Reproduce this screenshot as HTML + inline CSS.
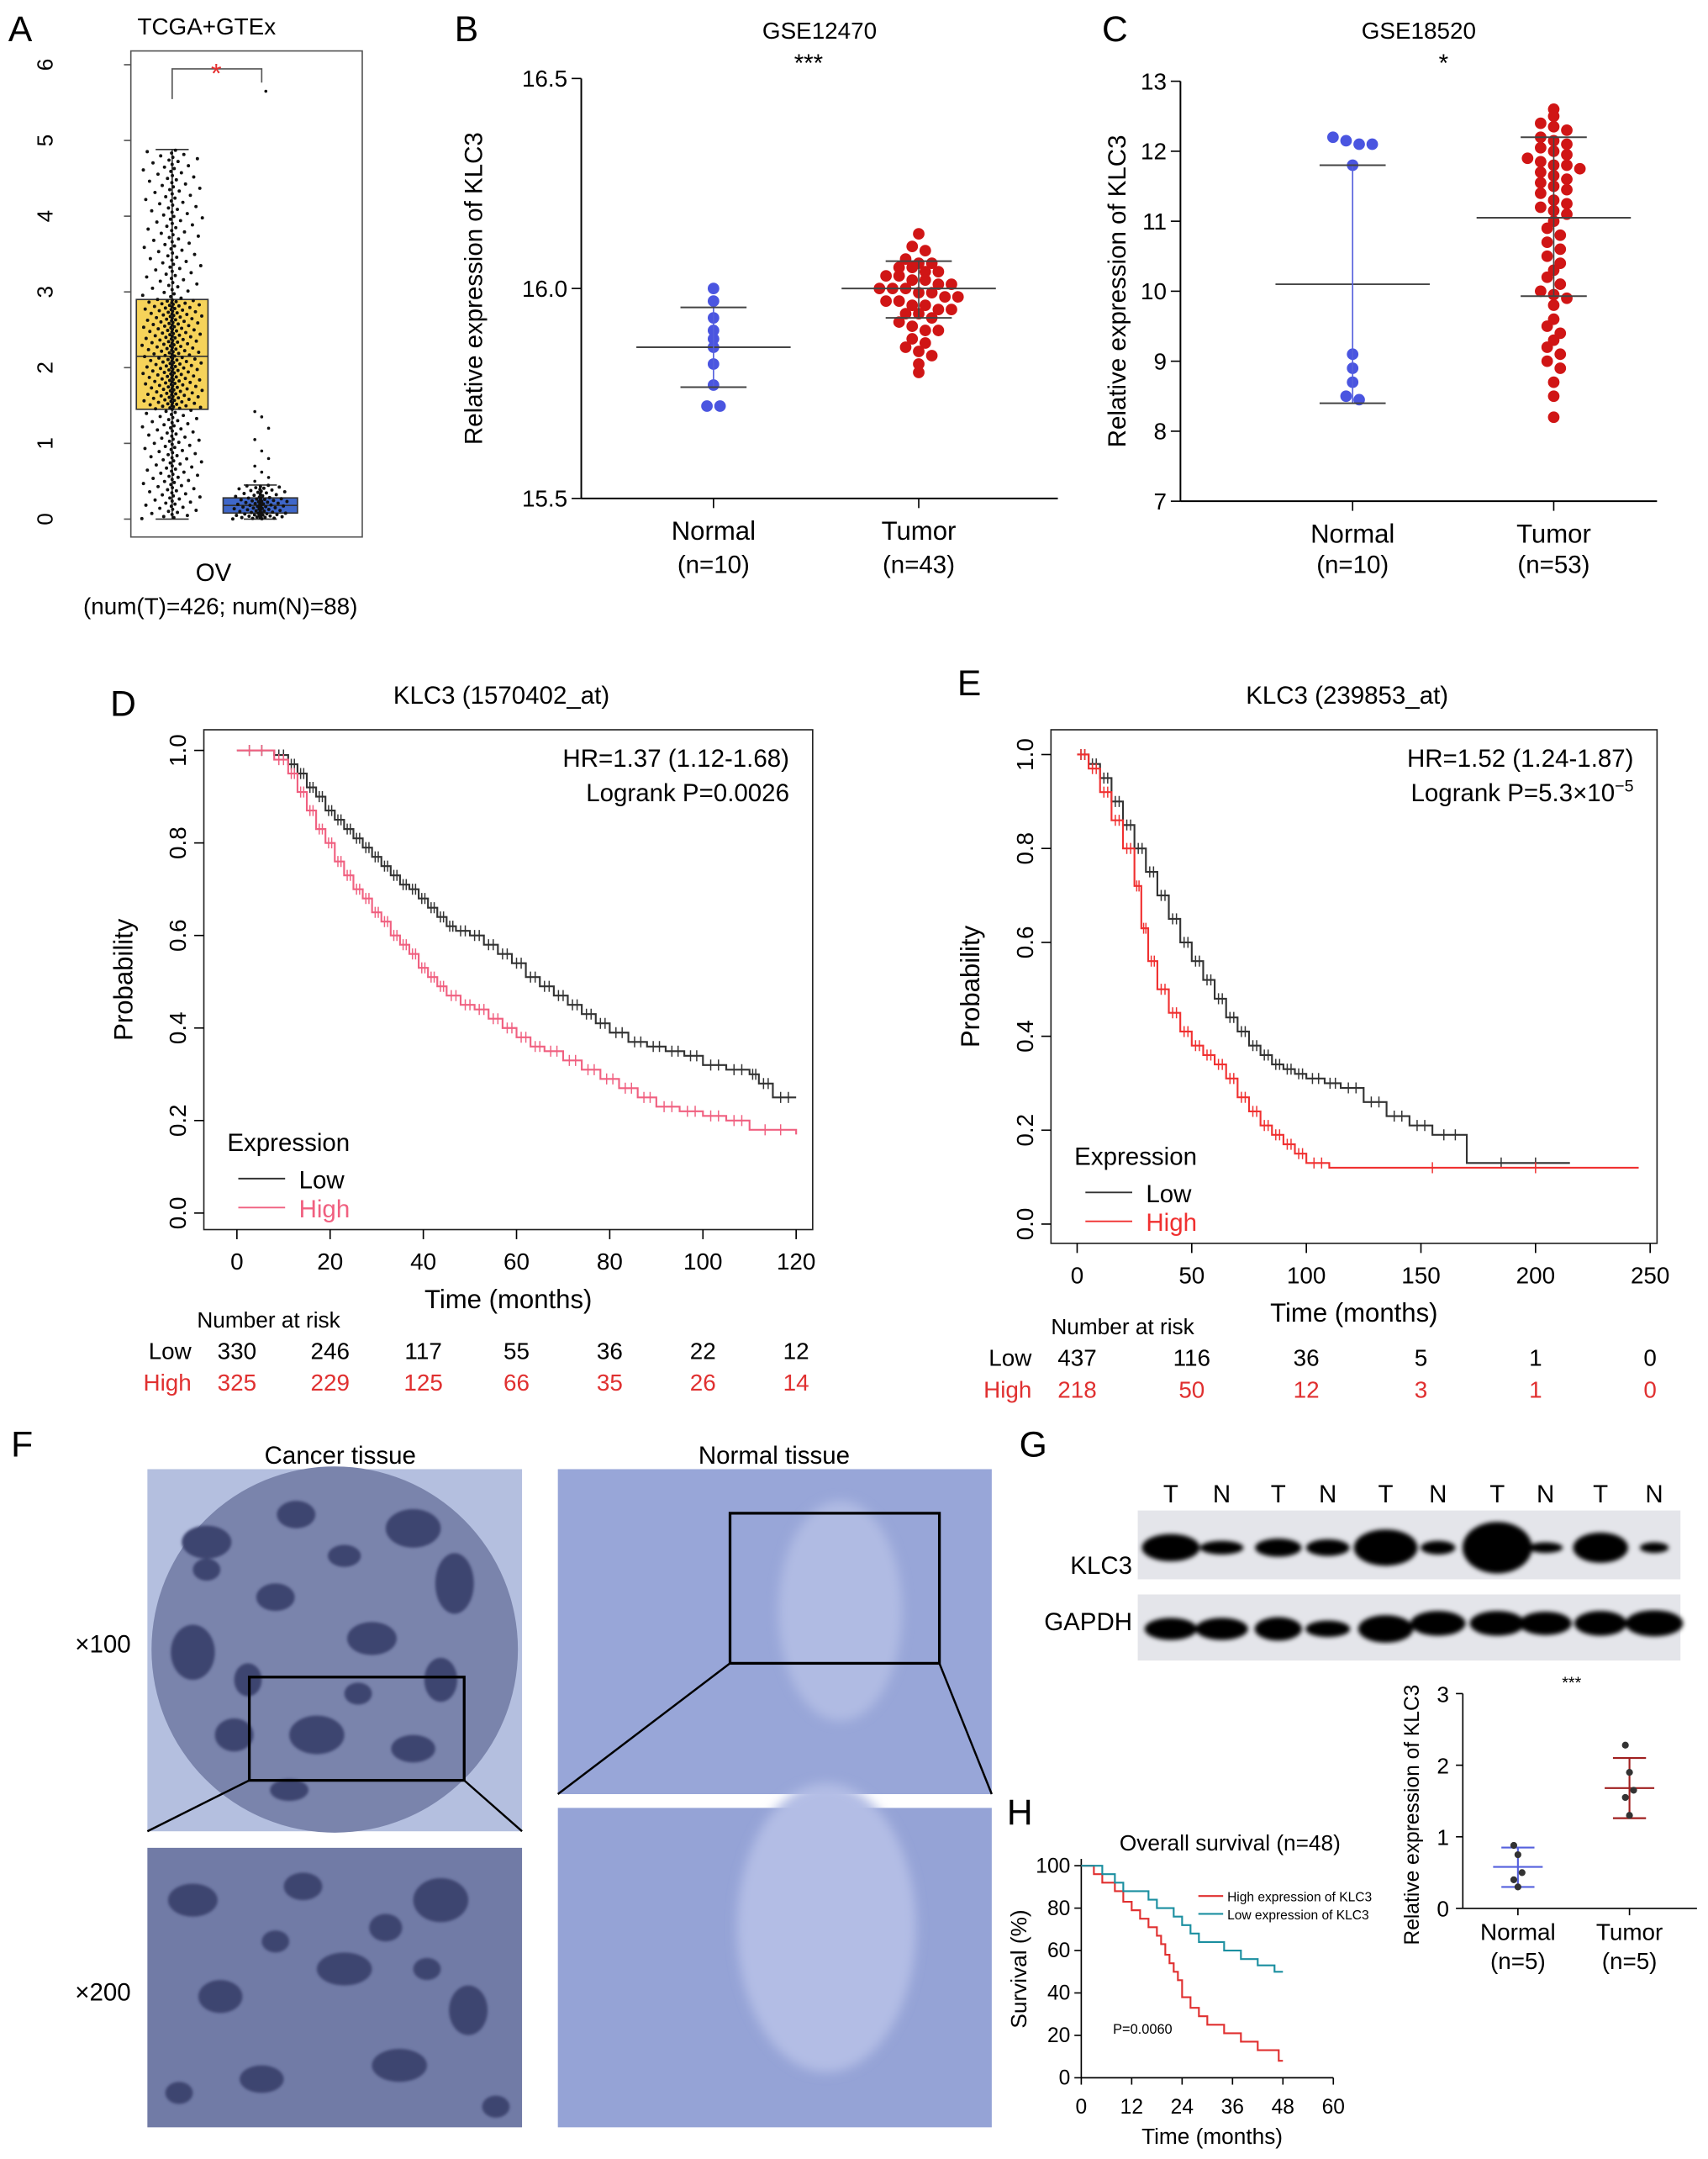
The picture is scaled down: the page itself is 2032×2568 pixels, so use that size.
<!DOCTYPE html>
<html><head><meta charset="utf-8"><style>
html,body{margin:0;padding:0;background:#fff;}
svg{display:block;font-family:"Liberation Sans",sans-serif;}
</style></head><body>
<svg id="fig" width="2032" height="2568" viewBox="0 0 1240 1568" preserveAspectRatio="none" xmlns="http://www.w3.org/2000/svg">
<defs>
<filter id="blur2"><feGaussianBlur stdDeviation="1.6"/></filter>
<filter id="blur1"><feGaussianBlur stdDeviation="1"/></filter>
<filter id="blur3"><feGaussianBlur stdDeviation="4"/></filter>
</defs>
</svg>
<script>
// ---------- data ----------
const aBoxT = [0, 1.45, 2.15, 2.9, 4.88];
const aBoxN = [0, 0.08, 0.18, 0.28, 0.45];
const aOutN = [1.42, 1.35, 1.2, 1.05, 0.9, 0.8, 0.7, 0.62, 0.55, 0.5];
const aOutT = [5.65];
const bNormal = [16.0, 15.97, 15.93, 15.9, 15.88, 15.86, 15.82, 15.77, 15.72, 15.72];
const bTumor = [16.13,16.1,16.09,16.07,16.06,16.06,16.05,16.05,16.04,16.03,16.03,16.02,16.02,16.01,16.01,16.0,16.0,16.0,15.99,15.99,15.98,15.98,15.97,15.97,15.96,15.96,15.95,15.95,15.94,15.94,15.93,15.92,15.91,15.9,15.9,15.88,15.87,15.86,15.85,15.84,15.82,15.8,16.04];
const bStats = [[15.86,15.955,15.765],[16.0,16.065,15.93]];
const cNormal = [12.2,12.15,12.1,12.1,11.8,9.1,8.9,8.7,8.5,8.45];
const cTumor = [12.6,12.5,12.4,12.35,12.3,12.2,12.15,12.1,12.05,12.0,11.95,11.9,11.85,11.8,11.8,11.75,11.7,11.65,11.6,11.55,11.5,11.4,11.3,11.25,11.2,11.15,11.1,11.0,10.9,10.8,10.7,10.6,10.5,10.4,10.3,10.2,10.1,10.0,9.95,9.9,9.8,9.6,9.5,9.4,9.3,9.2,9.1,9.0,8.9,8.7,8.5,8.2,11.45];
const cStats = [[10.1,11.8,8.4],[11.05,12.2,9.93]];
const dLowT = [0,8,11,13,15,17,19,21,23,25,27,29,31,33,35,37,39,41,43,45,47,50,53,56,59,62,65,68,71,74,77,80,84,88,92,96,100,105,110,112,115,120];
const dLowS = [1,0.99,0.97,0.95,0.92,0.9,0.87,0.85,0.83,0.81,0.79,0.77,0.75,0.73,0.71,0.7,0.68,0.66,0.64,0.62,0.61,0.6,0.58,0.56,0.54,0.51,0.49,0.47,0.45,0.43,0.41,0.39,0.37,0.36,0.35,0.34,0.32,0.31,0.3,0.28,0.25,0.25];
const dHighT = [0,8,11,13,15,17,19,21,23,25,27,29,31,33,35,37,39,41,43,45,48,51,54,57,60,63,66,70,74,78,82,86,90,95,100,105,110,120];
const dHighS = [1,0.98,0.95,0.91,0.87,0.83,0.8,0.76,0.73,0.7,0.68,0.65,0.63,0.6,0.58,0.56,0.53,0.51,0.49,0.47,0.45,0.44,0.42,0.4,0.38,0.36,0.35,0.33,0.31,0.29,0.27,0.25,0.23,0.22,0.21,0.2,0.18,0.17];
const dRiskLow = [330,246,117,55,36,22,12];
const dRiskHigh = [325,229,125,66,35,26,14];
const dTicks = [0,20,40,60,80,100,120];
const eLowT = [0,5,10,15,20,25,30,35,40,45,50,55,60,65,70,75,80,85,90,95,100,108,115,125,135,145,155,170,215];
const eLowS = [1,0.98,0.95,0.9,0.85,0.8,0.75,0.7,0.65,0.6,0.56,0.52,0.48,0.44,0.41,0.38,0.36,0.34,0.33,0.32,0.31,0.3,0.29,0.26,0.23,0.21,0.19,0.13,0.13];
const eHighT = [0,5,10,15,20,25,28,31,35,40,45,50,55,60,65,70,75,80,85,90,95,100,110,245];
const eHighS = [1,0.97,0.92,0.86,0.8,0.72,0.63,0.56,0.5,0.45,0.41,0.38,0.36,0.34,0.31,0.27,0.24,0.21,0.19,0.17,0.15,0.13,0.12,0.12];
const eRiskLow = [437,116,36,5,1,0];
const eRiskHigh = [218,50,12,3,1,0];
const eTicks = [0,50,100,150,200,250];
const probTicks = [0,0.2,0.4,0.6,0.8,1.0];
const gKLC3 = [[1.0,0.9],[0.75,0.45],[0.8,0.6],[0.75,0.55],[1.1,1.2],[0.6,0.45],[1.2,1.7],[0.6,0.35],[0.95,1.0],[0.5,0.35]];
const gGAPDH = [[1.0,0.8],[1.0,0.8],[0.9,0.85],[0.85,0.6],[1.05,1.0],[1.05,0.9],[1.05,0.9],[1.0,0.85],[1.0,0.9],[1.1,0.95]];
const gLanes = ['T','N','T','N','T','N','T','N','T','N'];
const gNormal = [0.88,0.75,0.5,0.4,0.3];
const gTumor = [2.28,1.9,1.65,1.55,1.3];
const gStats = [[0.58,0.85,0.3],[1.68,2.1,1.26]];
const hHighT = [0,3,5,8,10,12,14,16,18,19,20,21,22,23,24,26,28,30,34,38,42,45,47,48];
const hHighS = [100,96,92,88,83,79,75,71,67,63,58,54,50,46,38,33,29,25,21,17,13,13,8,8];
const hLowT = [0,5,8,10,12,16,18,20,22,24,26,28,30,34,38,40,42,46,48];
const hLowS = [100,96,92,88,88,84,80,80,76,72,68,64,64,60,56,56,53,50,50];

// ---------- helpers ----------
const svg = document.getElementById('fig');
const NS = 'http://www.w3.org/2000/svg';
function mk(tag, attrs){ const e=document.createElementNS(NS,tag); for(const k in attrs) e.setAttribute(k,attrs[k]); svg.appendChild(e); return e; }
function txt(x,y,s,size,anchor,fill,rot){ const e=mk('text',{x:x,y:y,'font-size':size,'text-anchor':anchor||'middle',fill:fill||'#000'}); if(rot) e.setAttribute('transform','rotate('+rot+' '+x+' '+y+')'); e.textContent=s; return e; }
function line(x1,y1,x2,y2,c,w){ return mk('line',{x1:x1,y1:y1,x2:x2,y2:y2,stroke:c||'#000','stroke-width':w||1}); }
let e;

[['A',6,30],['B',330,30],['C',800,30],['D',80,520],['E',695,505],['F',8,1058],['G',740,1058],['H',731,1325]].forEach(p=>{
  e = txt(p[1],p[2],p[0],26,'start');
  
  
});

// ===== Panel A =====
const aY = v => 377 - v*55;
e = mk('rect',{x:95,y:37,width:168,height:353,fill:'none',stroke:'#555','stroke-width':1});
 
e = txt(150,25,'TCGA+GTEx',17);
 
for(let v=0; v<=6; v++){
  line(90,aY(v),95,aY(v),'#555');
  e = txt(38,aY(v),String(v),16,'middle','#000',-90);
   
}
function boxA(cx,hw,st,fill,name){
  line(cx,aY(st[4]),cx,aY(st[3]),'#333'); line(cx-12,aY(st[4]),cx+12,aY(st[4]),'#333');
  line(cx,aY(st[0]),cx,aY(st[1]),'#333'); line(cx-12,aY(st[0]),cx+12,aY(st[0]),'#333');
  e = mk('rect',{x:cx-hw,y:aY(st[3]),width:2*hw,height:aY(st[1])-aY(st[3]),fill:fill,stroke:'#333'});
   
  line(cx-hw,aY(st[2]),cx+hw,aY(st[2]),'#333');
}
boxA(125,26,aBoxT,'#f6d35a','a-box-tumor');
boxA(189,27,aBoxN,'#3f67c9','a-box-normal');
function quant(st,p){ const ps=[0,0.25,0.5,0.75,1]; for(let i=0;i<4;i++){ if(p<=ps[i+1]){ const f=(p-ps[i])/0.25; return st[i]+f*(st[i+1]-st[i]); } } return st[4]; }
let g = mk('g',{fill:'#111'});
 
for(let i=0;i<426;i++){ const p=(i+0.5)/426; const v=quant(aBoxT,p); const j=((i*0.618034)%1)*2-1; const c=document.createElementNS(NS,'circle'); c.setAttribute('cx',125+j*Math.abs(j)*22); c.setAttribute('cy',aY(v)); c.setAttribute('r',1.2); g.appendChild(c); }
for(let i=0;i<88;i++){ const p=(i+0.5)/88; const v=quant(aBoxN,p); const j=((i*0.618034)%1)*2-1; const c=document.createElementNS(NS,'circle'); c.setAttribute('cx',189+j*Math.abs(j)*20); c.setAttribute('cy',aY(v)); c.setAttribute('r',1.2); g.appendChild(c); }
aOutN.forEach((v,i)=>{ const c=document.createElementNS(NS,'circle'); c.setAttribute('cx',185+(i%3)*5); c.setAttribute('cy',aY(v)); c.setAttribute('r',1.1); g.appendChild(c); });
aOutT.forEach(v=>{ const c=document.createElementNS(NS,'circle'); c.setAttribute('cx',193); c.setAttribute('cy',aY(v)); c.setAttribute('r',1.1); g.appendChild(c); });
e = mk('path',{d:'M125 72 V50 H190 V60',fill:'none',stroke:'#555'});
 
e = txt(157,60,'*',20,'middle','#e53030');
 
e = txt(155,422,'OV',18);
 
e = txt(160,446,'(num(T)=426; num(N)=88)',17);
 

// ===== scatter panels B & C =====
function scatter(pfx,x0,yTop,yBot,vMax,vMin,ticks,tickFmt,xs,groups,stats,colors,title,star,starX,labels,ttlOff){
  const y = v => yBot - (v-vMin)/(vMax-vMin)*(yBot-yTop);
  e = line(x0,yTop,x0,yBot,'#000',1.2);
   
  e = line(x0,yBot,x0+346,yBot,'#000',1.2);
   
  ticks.forEach(t=>{ line(x0-7,y(t),x0,y(t)); e=txt(x0-10,y(t)+6,tickFmt(t),17,'end');   });
  xs.forEach(x=>line(x,yBot,x,yBot+7));
  e = txt(x0-ttlOff,(yTop+yBot)/2,'Relative expression of KLC3',18,'middle','#000',-90);
   
  e = txt((x0+x0+346)/2,28,title,17);
   
  e = txt(starX,52,star,18);
   
  groups.forEach((vals,gi)=>{
    const cx = xs[gi];
    const rows = {};
    vals.forEach(v=>{ const r=Math.round(y(v)/8.5); (rows[r]=rows[r]||[]).push(v); });
    const gg = mk('g',{fill:colors[gi]});
     
    Object.keys(rows).forEach(r=>{
      const arr=rows[r];
      arr.forEach((v,j)=>{
        const off=(j-(arr.length-1)/2)*9.5;
        const c=document.createElementNS(NS,'circle'); c.setAttribute('cx',cx+off); c.setAttribute('cy',y(v)); c.setAttribute('r',4.2); gg.appendChild(c);
      });
    });
    const s=stats[gi];
    e = line(cx-56,y(s[0]),cx+56,y(s[0]),'#444',1.2);
     
    line(cx,y(s[1]),cx,y(s[2]),gi===1?'#444':'#5560dd',1);
    line(cx-24,y(s[1]),cx+24,y(s[1]),'#444',1.2); line(cx-24,y(s[2]),cx+24,y(s[2]),'#444',1.2);
    e = txt(cx,yBot+30,labels[gi],19);
     
  });
}
scatter('b',422,57,362,16.5,15.5,[15.5,16.0,16.5],t=>t.toFixed(1),[518,667],[bNormal,bTumor],bStats,['#4a55e0','#d01515'],'GSE12470','***',587,['Normal','Tumor'],72);
scatter('c',857,59,364,13,7,[7,8,9,10,11,12,13],t=>String(t),[982,1128],[cNormal,cTumor],cStats,['#4a55e0','#d01515'],'GSE18520','*',1048,['Normal','Tumor'],40);
[[518,'(n=10)'],[667,'(n=43)'],[982,'(n=10)'],[1128,'(n=53)']].forEach(p=>{ e=txt(p[0],416,p[1],18);   });

// ===== KM panels D & E =====
function km(pfx,fx,fy,fw,fh,x0,x1,tMax,y1,y0,ticks,lowT,lowS,highT,highS,highColor,title,hr,lp,riskLow,riskHigh,riskY,titleX){
  const X = t => x0 + t/tMax*(x1-x0);
  const Y = p => y0 - p*(y0-y1);
  e = mk('rect',{x:fx,y:fy,width:fw,height:fh,fill:'none',stroke:'#222','stroke-width':1});
   
  e = txt(fx+fw/2-5,fy-19,title,18);
   
  ticks.forEach(t=>{ line(X(t),fy+fh,X(t),fy+fh+7); e=txt(X(t),fy+fh+29,String(t),17);   });
  probTicks.forEach(p=>{ line(fx-7,Y(p),fx,Y(p)); e=txt(fx-13,Y(p),p.toFixed(1),17,'middle','#000',-90);   });
  e = txt(fx+fw/2,fy+fh+57,'Time (months)',19);
   
  e = txt(fx-52,fy+fh/2,'Probability',19,'middle','#000',-90);
   
  function curve(T,S,col,name){
    let d='M'+X(T[0])+' '+Y(S[0]);
    for(let i=1;i<T.length;i++){ d+=' H'+X(T[i])+' V'+Y(S[i]); }
    e = mk('path',{d:d,fill:'none',stroke:col,'stroke-width':1.3});
     
    let cd='';
    for(let i=0;i<T.length-1;i++){ for(let k=1;k<=2;k++){ const t=T[i]+(T[i+1]-T[i])*k/3; const xx=X(t), yy=Y(S[i]); cd+='M'+xx+' '+(yy-4)+'V'+(yy+4); } }
    e = mk('path',{d:cd,fill:'none',stroke:col,'stroke-width':0.9});
     
  }
  curve(lowT,lowS,'#333',pfx+'-curve-low');
  curve(highT,highS,highColor,pfx+'-curve-high');
  e = txt(fx+fw-17,fy+27,hr,18,'end');
   
  e = mk('text',{x:fx+fw-17,y:fy+52,'font-size':18,'text-anchor':'end'});
  e.innerHTML = lp;
   
  const lx=fx+17, ly=fy+fh-57;
  e = txt(lx,ly,'Expression',18,'start');
   
  line(lx+8,ly+20,lx+42,ly+20,'#333',1.2);
  e = txt(lx+52,ly+27,'Low',18,'start');
   
  line(lx+8,ly+41,lx+42,ly+41,highColor,1.2);
  e = txt(lx+52,ly+48,'High',18,'start',highColor);
   
  e = txt(titleX,riskY-2,'Number at risk',16,'start');
   
  e = txt(x0-33,riskY+21,'Low',17,'end');
   
  e = txt(x0-33,riskY+44,'High',17,'end','#e03030');
   
  ticks.forEach((t,i)=>{
    e = txt(X(t),riskY+21,String(riskLow[i]),17);
     
    e = txt(X(t),riskY+44,String(riskHigh[i]),17,'middle','#e03030');
     
  });
}
km('d',148,530,442,363,172,578,120,545,881,dTicks,dLowT,dLowS,dHighT,dHighS,'#f06080','KLC3 (1570402_at)','HR=1.37 (1.12-1.68)','Logrank P=0.0026',dRiskLow,dRiskHigh,966,143);
km('e',763,530,440,373,782,1198,250,548,889,eTicks,eLowT,eLowS,eHighT,eHighS,'#f03030','KLC3 (239853_at)','HR=1.52 (1.24-1.87)','Logrank P=5.3×10<tspan font-size="12" dy="-7">−5</tspan>',eRiskLow,eRiskHigh,971,763);

// ===== Panel F =====
e = txt(247,1063,'Cancer tissue',18);
 
e = txt(562,1063,'Normal tissue',18);
 
e = txt(95,1200,'×100',18,'end');
 
e = txt(95,1453,'×200',18,'end');
 
e = mk('rect',{x:107,y:1067,width:272,height:263,fill:'#b4bfdf'});
 
e = mk('circle',{cx:243,cy:1198,r:133,fill:'#7a84ac'});
 
e = mk('rect',{x:107,y:1342,width:272,height:203,fill:'#717ba6'});
 
const blobs=[[150,1120,18,12],[215,1100,14,10],[300,1110,20,14],[330,1150,14,22],[140,1200,16,20],[200,1160,14,10],[270,1190,18,12],[320,1220,12,16],[170,1260,14,12],[230,1260,20,14],[300,1270,16,10],[260,1230,10,8],[210,1300,14,8],[150,1140,10,8],[250,1130,12,8],[180,1220,10,12],[140,1380,18,12],[220,1370,14,10],[320,1380,20,16],[160,1450,16,12],[250,1430,20,12],[340,1460,14,18],[190,1510,16,10],[290,1500,20,12],[130,1520,10,8],[360,1530,10,8],[280,1400,12,10],[200,1410,10,8],[310,1430,10,8]];
g = mk('g',{fill:'#3d4470',filter:'url(#blur1)'});
 
blobs.forEach(b=>{ const c=document.createElementNS(NS,'ellipse'); c.setAttribute('cx',b[0]); c.setAttribute('cy',b[1]); c.setAttribute('rx',b[2]); c.setAttribute('ry',b[3]); g.appendChild(c); });
e = mk('rect',{x:181,y:1218,width:156,height:75,fill:'none',stroke:'#000','stroke-width':2});
 
line(181,1293,107,1330,'#000',1.5); line(337,1293,379,1330,'#000',1.5);
e = mk('rect',{x:405,y:1067,width:315,height:236,fill:'#98a6d8'});
 
e = mk('ellipse',{cx:610,cy:1170,rx:45,ry:80,fill:'#b0bbe3',filter:'url(#blur3)'});
e = mk('rect',{x:405,y:1313,width:315,height:232,fill:'#95a3d6'});
 
e = mk('ellipse',{cx:600,cy:1400,rx:65,ry:105,fill:'#b3bde5',filter:'url(#blur3)'});
e = mk('rect',{x:530,y:1099,width:152,height:109,fill:'none',stroke:'#000','stroke-width':2});
 
line(530,1208,405,1303,'#000',1.5); line(682,1208,720,1303,'#000',1.5);

// ===== Panel G blot =====
const lx = [850,887,928,964,1006,1044,1087,1122,1162,1201];
gLanes.forEach((l,i)=>{ e=txt(lx[i],1091,l,18);   });
e = mk('rect',{x:826,y:1097,width:394,height:50,fill:'#e4e5ea'});
 
e = mk('rect',{x:826,y:1158,width:394,height:48,fill:'#e4e5ea'});
 
g = mk('g',{fill:'#050505',filter:'url(#blur2)'});
 
gKLC3.forEach((b,i)=>{ const c=document.createElementNS(NS,'ellipse'); c.setAttribute('cx',lx[i]); c.setAttribute('cy',1124); c.setAttribute('rx',b[0]*21); c.setAttribute('ry',b[1]*11); g.appendChild(c); });
g = mk('g',{fill:'#050505',filter:'url(#blur2)'});
 
gGAPDH.forEach((b,i)=>{ const c=document.createElementNS(NS,'ellipse'); c.setAttribute('cx',lx[i]); c.setAttribute('cy',1183-(i>4?4:0)); c.setAttribute('rx',b[0]*19); c.setAttribute('ry',b[1]*10); g.appendChild(c); });
e = txt(822,1143,'KLC3',18,'end');
 
e = txt(822,1184,'GAPDH',18,'end');
 
(function(){
  const y = v => 1386 - v*52;
  line(1062,y(3),1062,y(0),'#000',1); line(1062,y(0),1232,y(0),'#000',1);
  [0,1,2,3].forEach(t=>{ line(1057,y(t),1062,y(t)); e=txt(1052,y(t)+6,String(t),16,'end');   });
  e = txt(1030,1318,'Relative expression of KLC3',15,'middle','#000',-90);
   
  e = txt(1141,1226,'***',12);
   
  const xs=[1102,1183], cols=['#5560dd','#a02020'], lbl=['Normal','Tumor'];
  [gNormal,gTumor].forEach((vals,gi)=>{
    const s=gStats[gi];
    line(xs[gi],y(s[1]),xs[gi],y(s[2]),cols[gi],1.3);
    line(xs[gi]-12,y(s[1]),xs[gi]+12,y(s[1]),cols[gi],1.3); line(xs[gi]-12,y(s[2]),xs[gi]+12,y(s[2]),cols[gi],1.3);
    line(xs[gi]-18,y(s[0]),xs[gi]+18,y(s[0]),cols[gi],1.3);
    vals.forEach((v,i)=>{ e=mk('circle',{cx:xs[gi]+((i%3)-1)*3,cy:y(v),r:2.5,fill:'#333'});   });
    line(xs[gi],y(0),xs[gi],y(0)+5);
    e=txt(xs[gi],1409,lbl[gi],17);  
    e=txt(xs[gi],1430,'(n=5)',17);  
  });
})();

// ===== Panel H =====
(function(){
  const X = t => 785 + t/60*183;
  const Y = s => 1509 - s*1.54;
  line(785,1350,785,1509,'#000',1); line(785,1509,968,1509,'#000',1);
  [0,20,40,60,80,100].forEach(t=>{ line(780,Y(t),785,Y(t)); e=txt(777,Y(t)+5,String(t),15,'end');   });
  [0,12,24,36,48,60].forEach(t=>{ line(X(t),1509,X(t),1514); e=txt(X(t),1535,String(t),15);   });
  e = txt(880,1557,'Time (months)',16);
   
  e = txt(745,1430,'Survival (%)',16,'middle','#000',-90);
   
  e = txt(893,1344,'Overall survival (n=48)',16);
   
  function c(T,S,col,name){ let d='M'+X(T[0])+' '+Y(S[0]); for(let i=1;i<T.length;i++) d+=' H'+X(T[i])+' V'+Y(S[i]); e=mk('path',{d:d,fill:'none',stroke:col,'stroke-width':1.3});   }
  c(hHighT,hHighS,'#e03030','h-curve-high');
  c(hLowT,hLowS,'#1b8fa0','h-curve-low');
  line(870,1377,888,1377,'#e03030',1.3); e=txt(891,1381,'High expression of KLC3',9.5,'start');  
  line(870,1390,888,1390,'#1b8fa0',1.3); e=txt(891,1394,'Low expression of KLC3',9.5,'start');  
  e = txt(808,1477,'P=0.0060',10,'start');
   
})();
</script>
</body></html>
